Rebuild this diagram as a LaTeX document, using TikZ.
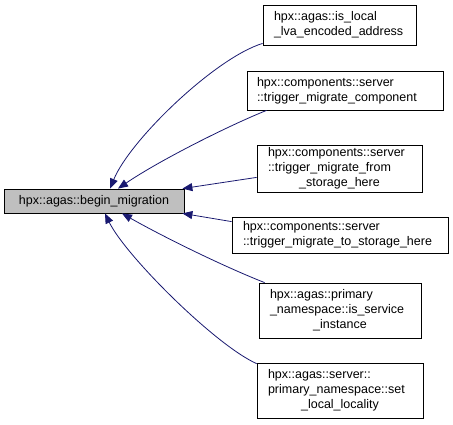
\documentclass[tikz,border=0pt]{standalone}
\usepackage{fontspec}
\setmainfont{Liberation Sans}
\usetikzlibrary{arrows.meta}
\definecolor{edgeblue}{RGB}{25,25,112}
\definecolor{mainfill}{RGB}{191,191,191}
\newcommand{\lastline}[1]{\makebox[\hsize][c]{#1}}

\begin{document}
\begin{tikzpicture}[x=1pt, y=-1pt,
      fn/.style={rectangle, draw=black, line width=0.8pt, fill=white,
                 inner xsep=11pt, inner ysep=0pt, align=left,
                 font=\fontsize{12.5}{15}\selectfont},
      call/.style={draw=edgeblue, line width=0.8pt,
                   -{Triangle[length=10pt,width=8pt]}}]
    \useasboundingbox (0,0) rectangle (453,425);
    \node[fn, fill=mainfill, align=center, minimum width=180pt,
      minimum height=24pt] (bm) at (94,201) {hpx::agas::begin\_migration};
    \node[fn, text width=131pt, minimum height=40pt] (lva) at (339.5,25)
      {hpx::agas::is\_local\\\_lva\_encoded\_address};
    \node[fn, inner xsep=10pt, text width=176pt, minimum height=39pt] (tmc)
      at (345,90.5) {hpx::components::server\\::trigger\_migrate\_component};
    \node[fn, text width=143pt, minimum height=47pt] (tmf) at (339.5,168.5)
      {hpx::components::server\\::trigger\_migrate\_from\\
      \lastline{\_storage\_here}};
    \node[fn, text width=194pt, minimum height=36pt] (tmt) at (340,235)
      {hpx::components::server\\::trigger\_migrate\_to\_storage\_here};
    \node[fn, text width=140pt, minimum height=55pt] (isi) at (340,310.5)
      {hpx::agas::primary\\\_namespace::is\_service\\\lastline{\_instance}};
    \node[fn, text width=144pt, minimum height=55pt] (sll) at (340,390.5)
      {hpx::agas::server::\\primary\_namespace::set\\
      \lastline{\_local\_locality}};
    \draw[call] ([yshift=2pt]lva.south west) .. controls (215,58) and (130,140)
      .. ([xshift=16pt]bm.north);
    \draw[call] ([xshift=20pt]tmc.south west) .. controls (230,125) and (160,160)
      .. ([xshift=24pt]bm.north);
    \draw[call] ([yshift=15pt]tmf.south west) -- ([xshift=-2pt]bm.north east);
    \draw[call] ([yshift=-5pt]tmt.north west) -- ([xshift=-2pt]bm.south east);
    \draw[call] ([xshift=6pt]isi.north west) .. controls (220,265) and (160,235)
      .. ([xshift=28pt]bm.south);
    \draw[call] ([yshift=-1pt]sll.north west) .. controls (215,345) and (125,255)
      .. ([xshift=11pt]bm.south);
\end{tikzpicture}
\end{document}
